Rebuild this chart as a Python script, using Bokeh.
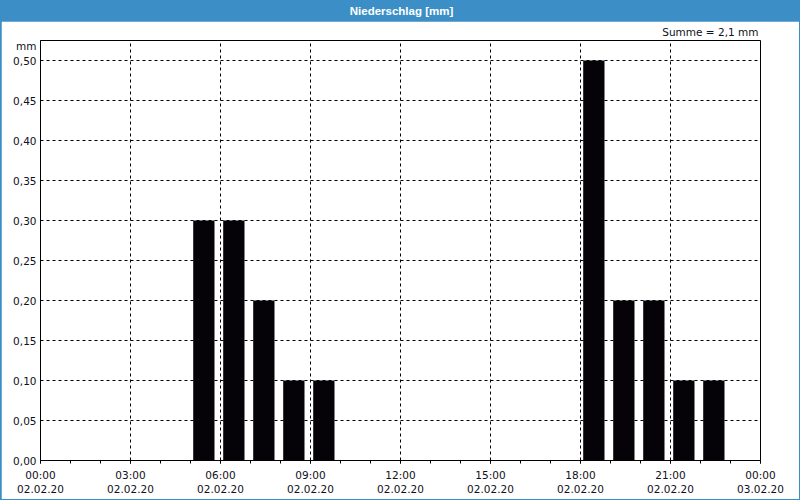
from bokeh.plotting import figure
from bokeh.layouts import column
from bokeh.models import FixedTicker, ColumnDataSource, Range1d, Title
from bokeh.core.properties import value
from bokeh.embed import file_html
from bokeh.resources import INLINE

# ---- data ----
hours = list(range(24))
precip = [0, 0, 0, 0, 0, 0.30, 0.30, 0.20, 0.10, 0.10, 0, 0,
          0, 0, 0, 0, 0, 0, 0.50, 0.20, 0.20, 0.10, 0.10, 0]
x_ticks = [0, 3, 6, 9, 12, 15, 18, 21, 24]
x_tick_labels = ["00:00\n02.02.20", "03:00\n02.02.20", "06:00\n02.02.20",
                 "09:00\n02.02.20", "12:00\n02.02.20", "15:00\n02.02.20",
                 "18:00\n02.02.20", "21:00\n02.02.20", "00:00\n03.02.20"]
y_ticks = [0.0, 0.05, 0.10, 0.15, 0.20, 0.25, 0.30, 0.35, 0.40, 0.45, 0.50]
y_tick_labels = ["0,00", "0,05", "0,10", "0,15", "0,20", "0,25",
                 "0,30", "0,35", "0,40", "0,45", "0,50"]
title_text = "Niederschlag [mm]"
sum_text = "Summe = 2,1 mm"
unit_text = "mm"

FONT = "DejaVu Sans"
BLUE = "#3c8fc6"
TXT = "#101020"
Y_MAX = 0.525

# ---- title bar ----
top = figure(width=800, height=21, output_backend="svg", toolbar_location=None,
             x_range=Range1d(0, 1), y_range=Range1d(0, 1),
             x_axis_type=None, y_axis_type=None,
             min_border_left=0, min_border_right=0, min_border_top=0,
             min_border_bottom=0)
top.background_fill_color = BLUE
top.border_fill_color = BLUE
top.outline_line_color = None
top.grid.visible = False
top.text(x=[0.5], y=[0.5], text=[title_text], text_color="white",
         text_font=value("Liberation Sans"), text_font_size="11.5px",
         text_font_style="bold", text_align="center", text_baseline="middle")

# ---- main chart ----
p = figure(width=798, height=478, output_backend="svg", toolbar_location=None,
           x_range=Range1d(0, 24), y_range=Range1d(0, Y_MAX),
           min_border_left=39, min_border_right=39, min_border_top=19,
           min_border_bottom=39)
p.background_fill_color = "white"
p.border_fill_color = "white"
p.outline_line_color = "black"

src = ColumnDataSource(dict(x=[h + 0.445 for h in hours], top=precip))
p.vbar(x="x", top="top", bottom=0, width=0.71, source=src,
       fill_color="#050307", line_color=None)

# axes
p.xaxis.ticker = FixedTicker(ticks=x_ticks, minor_ticks=list(range(25)))
p.xaxis.major_label_overrides = {t: l for t, l in zip(x_ticks, x_tick_labels)}
unit_pos = Y_MAX - 0.00625
p.yaxis.ticker = FixedTicker(ticks=y_ticks + [unit_pos])
ov = {t: l for t, l in zip(y_ticks, y_tick_labels)}
ov[unit_pos] = unit_text
p.yaxis.major_label_overrides = ov
for ax in (p.xaxis, p.yaxis):
    ax.axis_line_color = "black"
    ax.major_label_text_font = FONT
    ax.major_label_text_font_size = "10.5px"
    ax.major_label_text_color = TXT
    ax.major_tick_line_color = "black"
    ax.minor_tick_line_color = "black"
p.xaxis.major_tick_in = 0
p.xaxis.major_tick_out = 3
p.xaxis.minor_tick_in = 0
p.xaxis.minor_tick_out = 3
p.xaxis.major_label_standoff = 5
p.yaxis.major_tick_in = 0
p.yaxis.major_tick_out = 0
p.yaxis.minor_tick_line_color = None
p.yaxis.major_label_standoff = 4

p.xgrid.grid_line_color = "black"
p.xgrid.grid_line_dash = "3 3"
p.ygrid.ticker = FixedTicker(ticks=y_ticks)
p.ygrid.grid_line_color = "black"
p.ygrid.grid_line_dash = "3 3"

p.add_layout(Title(text=sum_text, align="right", text_font=FONT,
                   text_font_size="10.5px", text_font_style="normal",
                   text_color=TXT, standoff=5, offset=2), "above")

layout = column(top, p, spacing=0,
                styles={"background-color": BLUE, "padding": "0px 1px 1px 1px"})
open("out.html", "w").write(file_html(layout, INLINE))
